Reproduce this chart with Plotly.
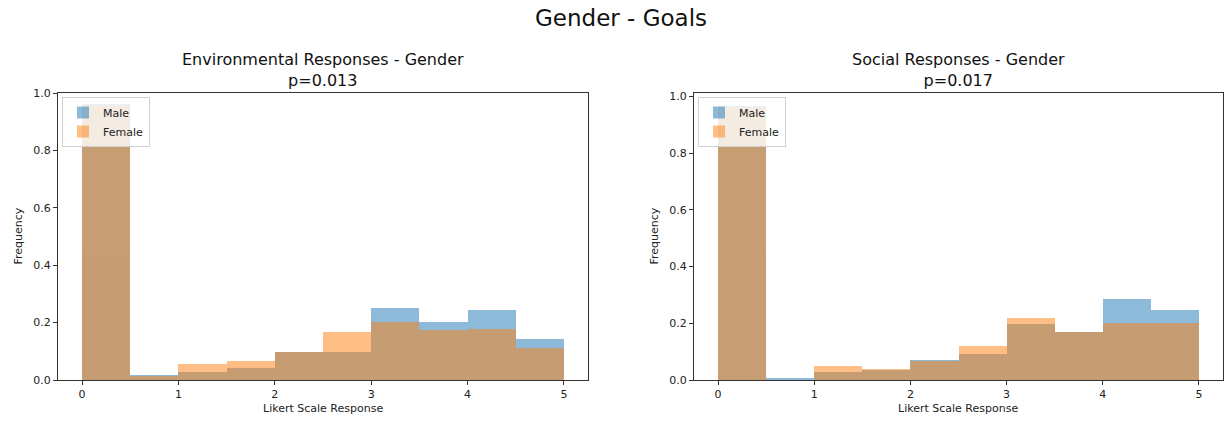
import plotly.graph_objects as go

# Histogram bins (width 0.5) over the 0-5 Likert scale
bin_left = [0.0, 0.5, 1.0, 1.5, 2.0, 2.5, 3.0, 3.5, 4.0, 4.5]
bin_width = 0.5

# Normalised frequencies per bin
env_male = [0.962, 0.017, 0.029, 0.043, 0.099, 0.099, 0.252, 0.201, 0.245, 0.143]
env_female = [0.958, 0.015, 0.055, 0.066, 0.096, 0.169, 0.201, 0.173, 0.176, 0.110]
soc_male = [0.965, 0.006, 0.029, 0.035, 0.069, 0.091, 0.198, 0.169, 0.286, 0.246]
soc_female = [0.962, 0.0, 0.048, 0.038, 0.067, 0.120, 0.218, 0.169, 0.200, 0.200]

panel_titles = ["Environmental Responses - Gender<br>p=0.013",
                "Social Responses - Gender<br>p=0.017"]
suptitle = "Gender - Goals"
x_ticks = [0, 1, 2, 3, 4, 5]
y_ticks = [0.0, 0.2, 0.4, 0.6, 0.8, 1.0]

BLUE = "#1f77b4"
ORANGE = "#ff7f0e"
FONT = "DejaVu Sans"
W, H = 1225, 421

centers = [b + bin_width / 2 for b in bin_left]

fig = go.Figure()

panels = [
    ("x", "y", "legend", env_male, env_female),
    ("x2", "y2", "legend2", soc_male, soc_female),
]
for xa, ya, lg, male, female in panels:
    for name, vals, col in (("Male", male, BLUE), ("Female", female, ORANGE)):
        fig.add_trace(go.Bar(
            x=centers, y=vals, width=bin_width, name=name,
            marker=dict(color=col, line=dict(width=0)),
            opacity=0.5, xaxis=xa, yaxis=ya, legend=lg,
        ))

# Plot-area pixel geometry
left1, right1 = 58, 588
left2, right2 = 694, 1223
top, bottom = 93, 380
ydom = [1 - bottom / H, 1 - top / H]

axis_common = dict(
    showline=True, linecolor="#333", linewidth=1, mirror=True,
    ticks="outside", ticklen=4, tickcolor="#333",
    showgrid=False, zeroline=False, automargin=False,
    tickfont=dict(family=FONT, size=11, color="#222"),
)

fig.update_layout(
    width=W, height=H,
    margin=dict(l=0, r=0, t=0, b=0, autoexpand=False),
    paper_bgcolor="white", plot_bgcolor="white",
    barmode="overlay",
    bargap=0,
    font=dict(family=FONT, color="#222"),
    xaxis=dict(domain=[left1 / W, right1 / W], range=[-0.25, 5.25],
               tickvals=x_ticks, anchor="y", **axis_common),
    yaxis=dict(domain=ydom, range=[0, 1.0], tickvals=y_ticks,
               tickformat=".1f", anchor="x", **axis_common),
    xaxis2=dict(domain=[left2 / W, right2 / W], range=[-0.25, 5.25],
                tickvals=x_ticks, anchor="y2", **axis_common),
    yaxis2=dict(domain=ydom, range=[0, 1.012], tickvals=y_ticks,
                tickformat=".1f", anchor="x2", **axis_common),
)

legend_style = dict(
    bgcolor="rgba(255,255,255,0.8)", bordercolor="#d0d0d0", borderwidth=1,
    font=dict(family=FONT, size=11, color="#222"),
    xanchor="left", yanchor="top", yref="paper", xref="paper",
    tracegroupgap=0, itemwidth=30,
)
fig.update_layout(
    legend=dict(x=(left1 + 4) / W, y=1 - (top + 4) / H, **legend_style),
    legend2=dict(x=(left2 + 4) / W, y=1 - (top + 4) / H, **legend_style),
)


def text_at(text, px_x, px_y, size, color="#222", angle=0):
    return dict(text=text, x=px_x / W, y=1 - px_y / H, xref="paper",
                yref="paper", showarrow=False, textangle=angle,
                font=dict(family=FONT, size=size, color=color),
                xanchor="center", yanchor="middle")


annotations = [text_at(suptitle, 621, 18, 23, "#111")]
for (l, r), title in zip(((left1, right1), (left2, right2)), panel_titles):
    cx = (l + r) / 2
    annotations.append(text_at(title, cx, 70, 16, "#111"))
    annotations.append(text_at("Likert Scale Response", cx, 408, 11))
    annotations.append(text_at("Frequency", l - 40, (top + bottom) / 2, 11,
                               angle=-90))
fig.update_layout(annotations=annotations)

fig.write_html("out.html")
